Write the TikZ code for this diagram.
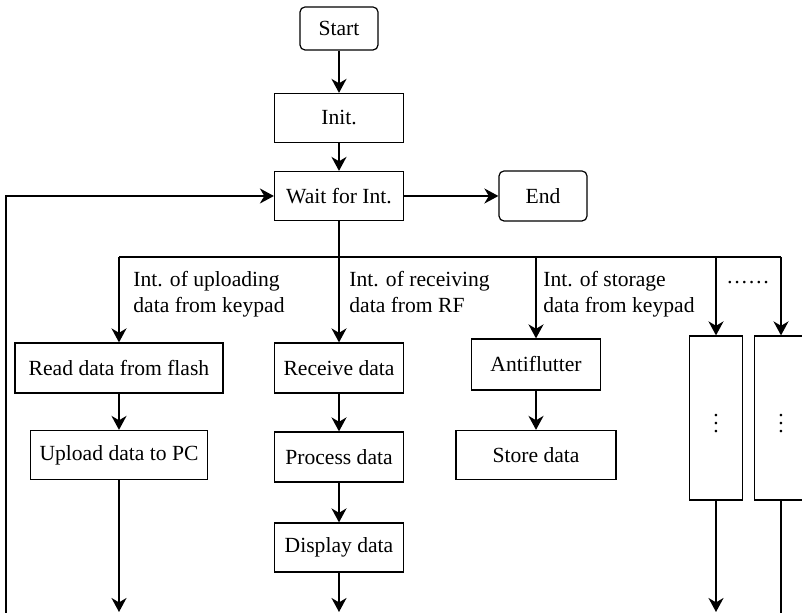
\documentclass[tikz,border=0pt]{standalone}
\usepackage{fontspec}
\setmainfont{Liberation Serif}
\usetikzlibrary{arrows.meta}

\begin{document}
\begin{tikzpicture}[x=0.5pt,y=-0.5pt,
  every node/.style={font=\fontsize{10.8}{13}\selectfont},
  box/.style={draw,line width=0.6pt,inner sep=0pt,align=center},
  term/.style={box,rounded corners=2.5pt},
  lbl/.style={anchor=north west,inner sep=0pt,align=left},
  flow/.style={line width=1pt,-{Stealth[length=7pt,width=7.5pt,inset=2.2pt]}},
  wire/.style={line width=1pt}]
  \clip (0,0) rectangle (802,613);
  \node[term,minimum width=39pt,minimum height=21.5pt] (start) at (339,28.5) {Start};
  \node[box,minimum width=64.5pt,minimum height=24.5pt] (init) at (339,118) {Init.};
  \node[box,minimum width=64.5pt,minimum height=24.5pt] (wait) at (339,196) {Wait for Int.};
  \node[term,minimum width=44pt,minimum height=25pt] (stop) at (543,196) {End};
  \node[box,minimum width=104pt,minimum height=25pt] (read) at (119,368) {Read data from flash};
  \node[box,minimum width=88.5pt,minimum height=24.5pt] (upload) at (119,455) {Upload data to PC};
  \node[box,minimum width=64.5pt,minimum height=25pt] (recv) at (339,368) {Receive data};
  \node[box,minimum width=64.5pt,minimum height=25pt] (proc) at (339,457) {Process data};
  \node[box,minimum width=64.5pt,minimum height=24.5pt] (disp) at (339,547.5) {Display data};
  \node[box,minimum width=64.5pt,minimum height=25.5pt] (anti) at (536,364.5) {Antiflutter};
  \node[box,minimum width=80pt,minimum height=24.5pt] (store) at (536,455) {Store data};
  \node[box,minimum width=26.5pt,minimum height=82pt] (colA) at (716,418) {$\vdots$};
  \node[box,minimum width=26.5pt,minimum height=82pt] (colB) at (781,418) {$\vdots$};
  \node[lbl] (lblA) at (133,271) {Int. of uploading\\data from keypad};
  \node[lbl] (lblB) at (349,271) {Int. of receiving\\data from RF};
  \node[lbl] (lblC) at (543,271) {Int. of storage\\data from keypad};
  \node[anchor=base,inner sep=0pt] (more) at (748,284) {\ldots\ldots};
  \coordinate (busL) at (119,257);
  \coordinate (busR) at (781,257);
  \coordinate (back) at (6,613);
  \coordinate (outA) at (119,612);
  \coordinate (outB) at (339,612);
  \coordinate (outC) at (716,612);
  \coordinate (outD) at (781,613);
  \draw[flow] (start) -- (init);
  \draw[flow] (init) -- (wait);
  \draw[flow] (wait) -- (stop);
  \draw[flow] (back) |- (wait.west);
  \draw[wire] (wait.south) -- (wait.south |- busL);
  \draw[wire] (busL) -- (busR);
  \draw[flow] (busL) -- (read.north);
  \draw[flow] (wait.south |- busL) -- (recv.north);
  \draw[flow] (anti.north |- busL) -- (anti.north);
  \draw[flow] (colA.north |- busL) -- (colA.north);
  \draw[flow] (busR) -- (colB.north);
  \draw[flow] (read) -- (upload);
  \draw[flow] (recv) -- (proc);
  \draw[flow] (proc) -- (disp);
  \draw[flow] (anti) -- (store);
  \draw[flow] (upload) -- (outA);
  \draw[flow] (disp) -- (outB);
  \draw[flow] (colA) -- (outC);
  \draw[wire] (colB) -- (outD);
\end{tikzpicture}
\end{document}
